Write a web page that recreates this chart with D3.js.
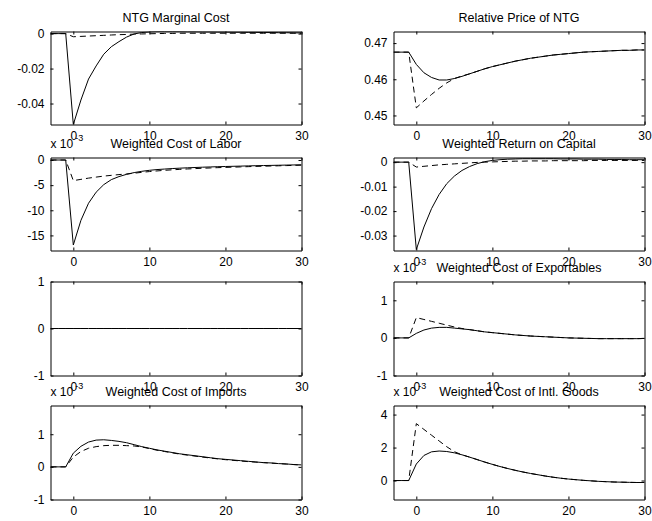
<!DOCTYPE html>
<html>
<head>
<meta charset="utf-8">
<script src="https://cdn.jsdelivr.net/npm/d3@7"></script>
<style>
  html, body { margin: 0; padding: 0; background: #fff; }
  svg { display: block; font-family: "Liberation Sans", Arial, Helvetica, sans-serif; }
</style>
</head>
<body>
<svg id="chart" width="652" height="521"></svg>
<script>
// Impulse responses, periods -3 .. 30 (solid and dashed scenarios)
const periods = d3.range(-3, 31);
const xDomain = [-3, 30];
const xTicks = [0, 10, 20, 30];
const xTickLabels = ["0", "10", "20", "30"];

const titles = [
  "NTG Marginal Cost", "Relative Price of NTG",
  "Weighted Cost of Labor", "Weighted Return on Capital",
  "", "Weighted Cost of Exportables",
  "Weighted Cost of Imports", "Weighted Cost of Intl. Goods"
];

// NTG marginal cost
const ntgMcSolid = [0, 0, 0, -0.052, -0.038, -0.026, -0.0185, -0.0118, -0.0075, -0.0046, -0.0020, -0.0002,
  0.0006, 0.0010, 0.0012, 0.0012, 0.0012, 0.0012, 0.0011, 0.0011, 0.0010, 0.0010, 0.0009, 0.0009,
  0.0008, 0.0008, 0.0007, 0.0007, 0.0006, 0.0006, 0.0005, 0.0005, 0.0004, 0.0004];
const ntgMcDash = [0, 0, 0, -0.0018, -0.0016, -0.0014, -0.0012, -0.0010, -0.0008, -0.0006, -0.0005, -0.0003,
  -0.0002, -0.0001, 0.0000, 0.0001, 0.0001, 0.0002, 0.0002, 0.0002, 0.0002, 0.0002, 0.0002, 0.0002,
  0.0002, 0.0002, 0.0002, 0.0002, 0.0002, 0.0002, 0.0002, 0.0002, 0.0002, 0.0002];

// Relative price of NTG
const relPriceSolid = [0.4675, 0.4675, 0.4675, 0.4641, 0.4618, 0.4605, 0.4598, 0.4598, 0.4602, 0.4608, 0.4615,
  0.4622, 0.4629, 0.4635, 0.4640, 0.4645, 0.4650, 0.4654, 0.4658, 0.4661, 0.4664, 0.4667, 0.4669,
  0.4671, 0.4673, 0.4675, 0.4676, 0.4677, 0.4678, 0.4679, 0.4680, 0.4680, 0.4681, 0.4681];
const relPriceDash = [0.4675, 0.4675, 0.4675, 0.4521, 0.4540, 0.4558, 0.4575, 0.4590, 0.4602, 0.4609, 0.4615,
  0.4622, 0.4629, 0.4635, 0.4640, 0.4645, 0.4650, 0.4654, 0.4658, 0.4661, 0.4664, 0.4667, 0.4669,
  0.4671, 0.4673, 0.4675, 0.4676, 0.4677, 0.4678, 0.4679, 0.4680, 0.4680, 0.4681, 0.4681];

// Weighted cost of labor (x 10^-3)
const laborSolid = [0, 0, 0, -16.9, -12.0, -8.6, -6.4, -4.9, -3.9, -3.3, -2.85, -2.5, -2.25, -2.05, -1.9,
  -1.8, -1.7, -1.62, -1.55, -1.49, -1.43, -1.38, -1.33, -1.29, -1.25, -1.21, -1.17, -1.13, -1.1,
  -1.07, -1.04, -1.01, -0.98, -0.95];
const laborDash = [0, 0, 0, -4.1, -3.85, -3.6, -3.4, -3.2, -3.05, -2.9, -2.78, -2.62, -2.45, -2.3, -2.17,
  -2.05, -1.95, -1.86, -1.78, -1.71, -1.64, -1.58, -1.52, -1.47, -1.42, -1.37, -1.32, -1.27, -1.23,
  -1.19, -1.15, -1.11, -1.07, -1.03];

// Weighted return on capital
const capitalSolid = [0, 0, 0, -0.0357, -0.0265, -0.0190, -0.0132, -0.0088, -0.0057, -0.0034, -0.0018, -0.0006,
  0.0002, 0.0007, 0.0010, 0.0012, 0.0013, 0.0014, 0.0014, 0.0014, 0.0014, 0.0014, 0.0013, 0.0013,
  0.0013, 0.0012, 0.0012, 0.0012, 0.0011, 0.0011, 0.0011, 0.0010, 0.0010, 0.0010];
const capitalDash = [0, 0, 0, -0.0020, -0.0017, -0.0014, -0.0011, -0.0009, -0.0007, -0.0005, -0.0003, -0.0001,
  0.0000, 0.0001, 0.0002, 0.0003, 0.0004, 0.0004, 0.0005, 0.0005, 0.0005, 0.0006, 0.0006, 0.0006,
  0.0006, 0.0006, 0.0007, 0.0007, 0.0007, 0.0007, 0.0007, 0.0007, 0.0007, 0.0007];

// Unlabelled panel (no response)
const flatSolid = [0, 0, 0, 0, 0, 0, 0, 0, 0, 0, 0, 0, 0, 0, 0, 0, 0, 0, 0, 0, 0, 0, 0, 0, 0, 0, 0, 0, 0, 0, 0, 0, 0, 0];
const flatDash = [0, 0, 0, 0, 0, 0, 0, 0, 0, 0, 0, 0, 0, 0, 0, 0, 0, 0, 0, 0, 0, 0, 0, 0, 0, 0, 0, 0, 0, 0, 0, 0, 0, 0];

// Weighted cost of exportables (x 10^-3)
const exportSolid = [0, 0, 0, 0.12, 0.21, 0.26, 0.28, 0.28, 0.26, 0.24, 0.22, 0.19, 0.16, 0.14, 0.12,
  0.10, 0.08, 0.065, 0.05, 0.04, 0.03, 0.02, 0.01, 0.0, -0.005, -0.01, -0.015, -0.02, -0.02,
  -0.02, -0.02, -0.02, -0.02, -0.015];
const exportDash = [0, 0, 0, 0.54, 0.49, 0.44, 0.39, 0.34, 0.29, 0.25, 0.22, 0.19, 0.16, 0.14, 0.12,
  0.10, 0.08, 0.065, 0.05, 0.04, 0.03, 0.02, 0.01, 0.0, -0.005, -0.01, -0.015, -0.02, -0.02,
  -0.02, -0.02, -0.02, -0.02, -0.015];

// Weighted cost of imports (x 10^-3)
const importSolid = [0, 0, 0, 0.42, 0.63, 0.76, 0.82, 0.83, 0.81, 0.78, 0.74, 0.68, 0.62, 0.57, 0.52,
  0.48, 0.44, 0.40, 0.37, 0.34, 0.31, 0.28, 0.25, 0.23, 0.21, 0.19, 0.17, 0.15, 0.13, 0.12,
  0.10, 0.09, 0.07, 0.06];
const importDash = [0, 0, 0, 0.30, 0.47, 0.57, 0.62, 0.65, 0.66, 0.66, 0.65, 0.64, 0.61, 0.56, 0.51,
  0.47, 0.43, 0.39, 0.36, 0.33, 0.30, 0.27, 0.245, 0.22, 0.20, 0.18, 0.16, 0.145, 0.13, 0.115,
  0.10, 0.085, 0.07, 0.055];

// Weighted cost of intermediate goods (x 10^-3)
const intlSolid = [0, 0, 0, 1.0, 1.52, 1.74, 1.79, 1.76, 1.68, 1.56, 1.42, 1.27, 1.12, 0.98, 0.85,
  0.73, 0.62, 0.52, 0.43, 0.35, 0.27, 0.20, 0.14, 0.09, 0.05, 0.01, -0.02, -0.05, -0.07, -0.09,
  -0.10, -0.11, -0.12, -0.12];
const intlDash = [0, 0, 0, 3.45, 3.1, 2.75, 2.4, 2.05, 1.75, 1.56, 1.42, 1.27, 1.12, 0.98, 0.85,
  0.73, 0.62, 0.52, 0.43, 0.35, 0.27, 0.20, 0.14, 0.09, 0.05, 0.01, -0.02, -0.05, -0.07, -0.09,
  -0.10, -0.11, -0.12, -0.12];

// y-axis settings per panel
const yDomains = [
  [-0.052, 0.0012], [0.4475, 0.4732],
  [-18, 0.5], [-0.0361, 0.0019],
  [-1, 1], [-1, 1.5],
  [-1, 1.88], [-1.15, 4.55]
];
const yTicks = [
  [-0.04, -0.02, 0], [0.45, 0.46, 0.47],
  [-15, -10, -5, 0], [-0.03, -0.02, -0.01, 0],
  [-1, 0, 1], [-1, 0, 1],
  [-1, 0, 1], [0, 2, 4]
];
const yTickLabels = [
  ["-0.04", "-0.02", "0"], ["0.45", "0.46", "0.47"],
  ["-15", "-10", "-5", "0"], ["-0.03", "-0.02", "-0.01", "0"],
  ["-1", "0", "1"], ["-1", "0", "1"],
  ["-1", "0", "1"], ["0", "2", "4"]
];
const exponents = [null, null, "-3", null, null, "-3", "-3", "-3"];

const solidSeries = [ntgMcSolid, relPriceSolid, laborSolid, capitalSolid, flatSolid, exportSolid, importSolid, intlSolid];
const dashSeries = [ntgMcDash, relPriceDash, laborDash, capitalDash, flatDash, exportDash, importDash, intlDash];

// subplot grid geometry (4 rows x 2 columns)
const cols = [[50.5, 301.5], [393.5, 644.5]];
const rows = [[31.5, 124.5], [157.5, 250.5], [281.5, 375.5], [405.5, 499.5]];

const svg = d3.select("#chart");
const FONT = 12;

titles.forEach((title, i) => {
  const [x0, x1] = cols[i % 2];
  const [y0, y1] = rows[Math.floor(i / 2)];
  const x = d3.scaleLinear().domain(xDomain).range([x0, x1]);
  const y = d3.scaleLinear().domain(yDomains[i]).range([y1, y0]);
  const g = svg.append("g");

  const clipId = "clip" + i;
  g.append("clipPath").attr("id", clipId)
    .append("rect").attr("x", x0).attr("y", y0).attr("width", x1 - x0).attr("height", y1 - y0);

  const line = d3.line().x((d, k) => x(periods[k])).y(d => y(d));

  const plot = g.append("g").attr("clip-path", `url(#${clipId})`);
  plot.append("path").datum(dashSeries[i]).attr("d", line)
    .attr("fill", "none").attr("stroke", "#000").attr("stroke-width", 1)
    .attr("stroke-dasharray", "6,4");
  plot.append("path").datum(solidSeries[i]).attr("d", line)
    .attr("fill", "none").attr("stroke", "#000").attr("stroke-width", 1);

  const styleAxis = sel => {
    sel.attr("font-size", FONT).attr("font-family", null);
    sel.selectAll("path.domain").attr("stroke", "#000").attr("stroke-width", 1);
    sel.selectAll(".tick line").attr("stroke", "#000");
    sel.selectAll(".tick text").attr("fill", "#000");
  };

  g.append("g").attr("transform", `translate(0,${y1})`)
    .call(d3.axisBottom(x).tickValues(xTicks).tickFormat((d, k) => xTickLabels[k])
      .tickSizeInner(-3).tickSizeOuter(0).tickPadding(7))
    .call(styleAxis);
  g.append("g").attr("transform", `translate(0,${y0})`)
    .call(d3.axisTop(x).tickValues(xTicks).tickFormat("")
      .tickSizeInner(-3).tickSizeOuter(0))
    .call(styleAxis);
  g.append("g").attr("transform", `translate(${x0},0)`)
    .call(d3.axisLeft(y).tickValues(yTicks[i]).tickFormat((d, k) => yTickLabels[i][k])
      .tickSizeInner(-3).tickSizeOuter(0).tickPadding(6))
    .call(styleAxis);
  g.append("g").attr("transform", `translate(${x1},0)`)
    .call(d3.axisRight(y).tickValues(yTicks[i]).tickFormat("")
      .tickSizeInner(-3).tickSizeOuter(0))
    .call(styleAxis);

  if (title) {
    g.append("text").attr("x", (x0 + x1) / 2).attr("y", y0 - 10)
      .attr("text-anchor", "middle").attr("font-size", 12.5).attr("fill", "#000")
      .text(title);
  }
  if (exponents[i]) {
    const t = g.append("text").attr("x", x0).attr("y", y0 - 9.5)
      .attr("font-size", FONT).attr("fill", "#000");
    t.append("tspan").text("x 10");
    t.append("tspan").attr("dx", 2).attr("dy", -7).attr("font-size", 9).text(exponents[i]);
  }
});
</script>
</body>
</html>
